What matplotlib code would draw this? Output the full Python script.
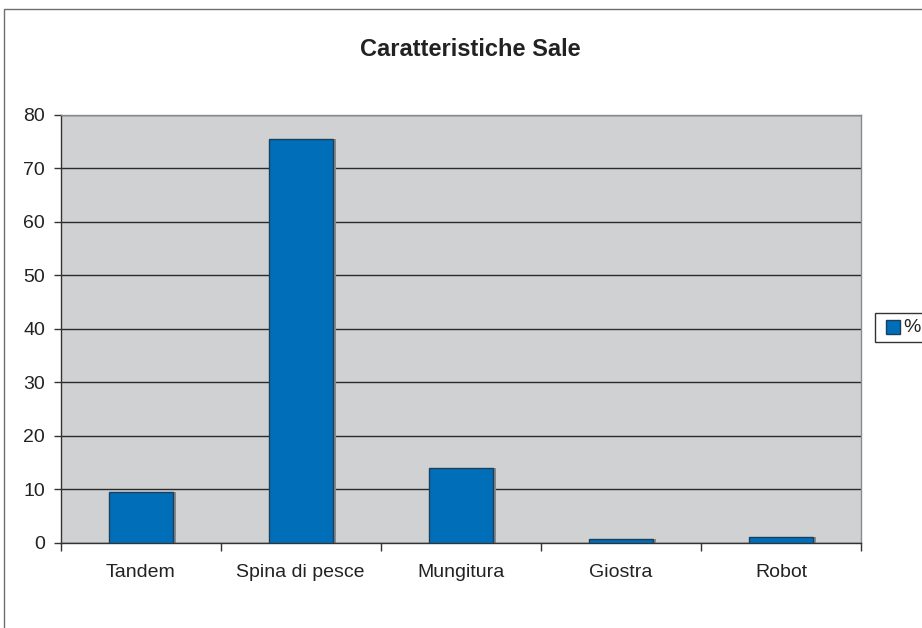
import matplotlib
matplotlib.use("Agg")
import matplotlib.pyplot as plt
from matplotlib.patches import Rectangle
import numpy as np

plt.rcParams['font.family'] = ['Liberation Sans', 'DejaVu Sans']

categories = ["Tandem", "Spina di pesce", "Mungitura", "Giostra", "Robot"]
values = [9.4, 75.4, 14.0, 0.6, 1.0]
y_ticks = [0, 10, 20, 30, 40, 50, 60, 70, 80]
title = "Caratteristiche Sale"
series_name = "%"

W, H = 922, 628
fig = plt.figure(figsize=(W / 100, H / 100), dpi=100)

# outer chart frame (extends past the right and bottom edges)
fig.patches.append(Rectangle((4 / W, -0.1), 1.2, (H - 9) / H + 0.1,
                             transform=fig.transFigure, fill=False,
                             edgecolor="#6e6e6e", linewidth=1.0))

left, right = 60.5, 861.3
top, bottom = 114.7, 542.7
ax = fig.add_axes([left / W, (H - bottom) / H, (right - left) / W, (bottom - top) / H])
ax.set_facecolor("#d0d1d3")

x = np.arange(len(categories))
ax.bar(x + 0.02, values, width=0.4, color="#8a8a8a", zorder=2, linewidth=0)  # shadow
ax.bar(x, values, width=0.4, color="#006eb8", edgecolor="#1d3f5e",
       linewidth=1.0, zorder=3)

ax.set_xlim(-0.5, len(categories) - 0.5)
ax.set_ylim(0, 80)
ax.set_yticks(y_ticks)
ax.set_yticklabels([str(t) for t in y_ticks], fontsize=14, color="#222222")
ax.yaxis.grid(True, color="#2a2a2a", linewidth=1.0, zorder=1)
ax.set_axisbelow(True)

ax.set_xticks(x)
ax.set_xticklabels(categories, fontsize=14, color="#222222")
ax.set_xticks(np.arange(-0.5, len(categories)), minor=True)
ax.tick_params(axis="x", which="major", length=0, pad=15)
ax.tick_params(axis="x", which="minor", length=6, width=1, color="#333333")
ax.tick_params(axis="y", length=5, width=1, color="#333333", pad=6)

for side in ("top", "right"):
    ax.spines[side].set_color("#8a8a8a")
    ax.spines[side].set_linewidth(1.0)
for side in ("left", "bottom"):
    ax.spines[side].set_color("#333333")
    ax.spines[side].set_linewidth(1.0)

fig.text(470 / W, 1 - 49 / H, title, ha="center", va="center",
         fontsize=17, fontweight="bold", color="#222222")

# legend box
fig.patches.append(Rectangle((875 / W, 1 - 342 / H), 60 / W, 29 / H,
                             transform=fig.transFigure, facecolor="white",
                             edgecolor="#333333", linewidth=1.0))
fig.patches.append(Rectangle((886 / W, 1 - 334 / H), 14 / W, 14 / H,
                             transform=fig.transFigure, facecolor="#006eb8",
                             edgecolor="#1d3f5e", linewidth=1.0))
fig.text(903 / W, 1 - 328 / H, series_name, ha="left", va="center",
         fontsize=14, color="#222222")

fig.savefig("out.png", dpi=100)
